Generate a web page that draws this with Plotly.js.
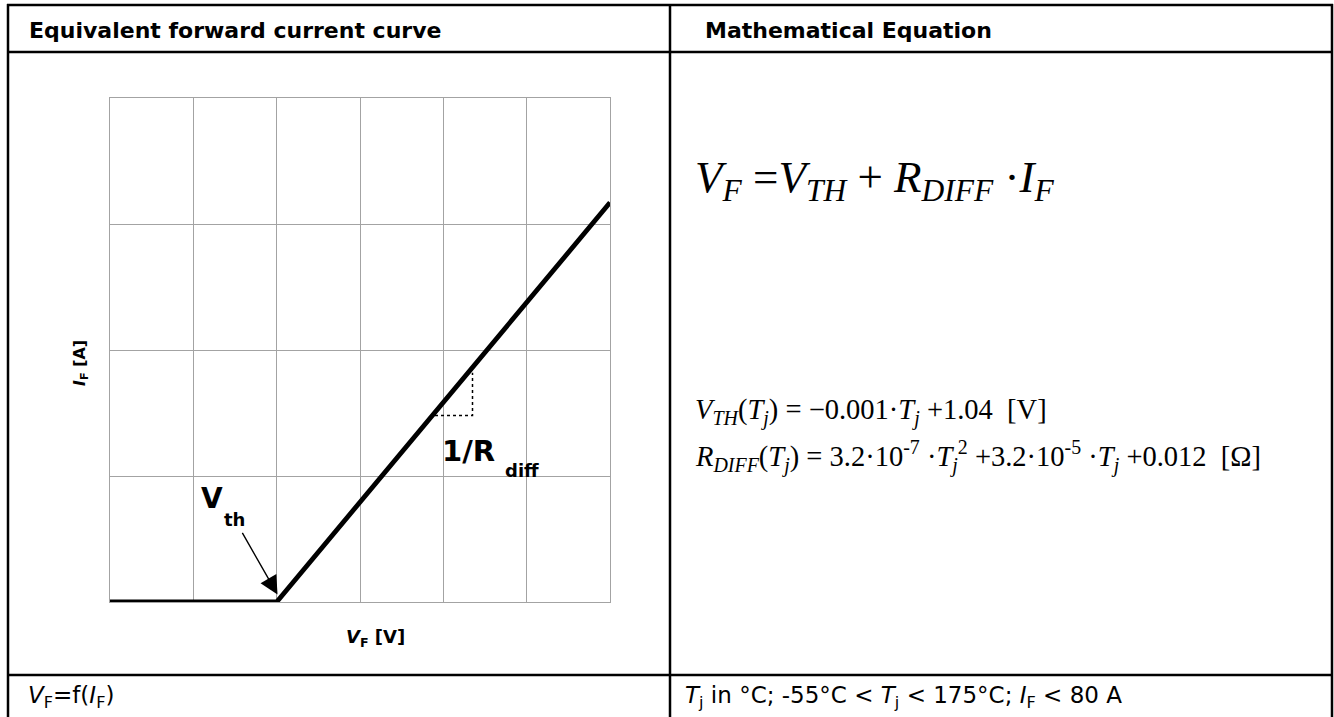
<!DOCTYPE html>
<html>
<head>
<meta charset="utf-8">
<script src="https://cdn.plot.ly/plotly-3.0.1.min.js"></script>
<style>
  html, body { margin: 0; padding: 0; background: #ffffff; }
  #chart { width: 1334px; height: 717px; }
</style>
</head>
<body>
<div id="chart"></div>
<script>
// ---- data ----
var forwardVoltage = [0, 2, 6];          // V_F, in grid units
var forwardCurrent = [0, 0, 3.17];       // I_F, in grid units
var slopeMarkX = [3.9, 4.35, 4.35];      // dotted slope triangle
var slopeMarkY = [1.48, 1.48, 1.82];
var thresholdPoint = [2.01, 0.06];       // where the V_th arrow points

var headerLeft = 'Equivalent forward current curve';
var headerRight = 'Mathematical Equation';
var footerLeft = '<i>V</i><sub>F</sub>=f(<i>I</i><sub>F</sub>)';
var footerRight = '<i>T</i><sub>j</sub> in °C; -55°C &lt; <i>T</i><sub>j</sub> &lt; 175°C; <i>I</i><sub>F</sub> &lt; 80 A';
var eqMain = '<i>V</i><sub><i>F</i></sub> =<i>V</i><sub><i>TH</i></sub> + <i>R</i><sub><i>DIFF</i></sub> ·<i>I</i><sub><i>F</i></sub>';
var eqVth = '<i>V</i><sub><i>TH</i></sub>(<i>T</i><sub><i>j</i></sub>) = −0.001·<i>T</i><sub><i>j</i></sub> +1.04  [V]';
var eqRdiff = '<i>R</i><sub><i>DIFF</i></sub>(<i>T</i><sub><i>j</i></sub>) = 3.2·10<sup>-7</sup> ·<i>T</i><sub><i>j</i></sub><sup>2</sup> +3.2·10<sup>-5</sup> ·<i>T</i><sub><i>j</i></sub> +0.012  [Ω]';
var xLabel = '<b><i>V</i><sub>F</sub> [V]</b>';
var yLabel = '<b><i>I</i><sub>F</sub> [A]</b>';

// ---- helpers: pixel -> paper (margins are 0, so paper = full canvas) ----
var W = 1334, H = 717;
function px(x) { return x / W; }
function py(y) { return 1 - y / H; }

var black = '#000000';
var grid = '#a3a3a3';

function hline(y, x0, x1, w) {
  return {type: 'line', xref: 'paper', yref: 'paper', x0: px(x0), x1: px(x1), y0: py(y), y1: py(y),
          line: {color: black, width: w}};
}
function vline(x, y0, y1, w) {
  return {type: 'line', xref: 'paper', yref: 'paper', x0: px(x), x1: px(x), y0: py(y0), y1: py(y1),
          line: {color: black, width: w}};
}

var shapes = [
  hline(5, 7, 1333, 2.5),
  hline(52, 7, 1333, 2.5),
  hline(675, 7, 1333, 2.5),
  vline(8, 4, 720, 2.5),
  vline(670, 4, 720, 2.5),
  vline(1332, 4, 720, 2.5)
];

function ann(text, x, y, opts) {
  var a = {text: text, xref: 'paper', yref: 'paper', x: px(x), y: py(y), showarrow: false,
           xanchor: 'left', yanchor: 'middle',
           font: {family: 'DejaVu Sans', size: 20, color: black}};
  for (var k in opts) { a[k] = opts[k]; }
  return a;
}

var annotations = [
  ann('<b>' + headerLeft + '</b>', 27, 30, {font: {family: 'DejaVu Sans', size: 22, color: black}}),
  ann('<b>' + headerRight + '</b>', 703, 30, {font: {family: 'DejaVu Sans', size: 22, color: black}}),
  ann(footerLeft, 26, 697, {font: {family: 'DejaVu Sans', size: 23, color: black}}),
  ann(footerRight, 683, 697, {font: {family: 'DejaVu Sans', size: 23, color: black}}),
  ann(eqMain, 693, 180, {font: {family: 'Liberation Serif', size: 45, color: black}}),
  ann(eqVth, 693, 412, {font: {family: 'Liberation Serif', size: 28.5, color: black}}),
  ann(eqRdiff, 693, 456, {font: {family: 'Liberation Serif', size: 28.5, color: black}}),
  ann(yLabel, 80, 363, {xanchor: 'center', textangle: -90, font: {family: 'DejaVu Sans', size: 16, color: black}}),
  ann(xLabel, 375, 638, {xanchor: 'center', font: {family: 'DejaVu Sans', size: 18, color: black}}),
  ann('<b>V</b>', 199, 498, {font: {family: 'DejaVu Sans', size: 28, color: black}}),
  ann('<b>th</b>', 222, 519, {font: {family: 'DejaVu Sans', size: 18, color: black}}),
  ann('<b>1/R</b>', 440, 451, {font: {family: 'DejaVu Sans', size: 29, color: black}}),
  ann('<b>diff</b>', 503, 470, {font: {family: 'DejaVu Sans', size: 18, color: black}}),
  {text: '', xref: 'x', yref: 'y', x: thresholdPoint[0], y: thresholdPoint[1],
   showarrow: true, arrowhead: 2, arrowsize: 2.6, arrowwidth: 1.4, arrowcolor: black,
   axref: 'pixel', ayref: 'pixel', ax: -36, ay: -63}
];

var traces = [
  {x: forwardVoltage, y: forwardCurrent, type: 'scatter', mode: 'lines',
   line: {color: black, width: 4.8}, cliponaxis: false, hoverinfo: 'skip', showlegend: false},
  {x: slopeMarkX, y: slopeMarkY, type: 'scatter', mode: 'lines',
   line: {color: black, width: 1.5, dash: 'dot'}, hoverinfo: 'skip', showlegend: false}
];

var axisCommon = {showgrid: true, gridcolor: grid, gridwidth: 1, zeroline: false,
                  showticklabels: false, ticks: '', showline: true, mirror: true,
                  linecolor: grid, linewidth: 1, fixedrange: true, dtick: 1};

var layout = {
  width: W, height: H,
  margin: {l: 0, r: 0, t: 0, b: 0, pad: 0},
  paper_bgcolor: '#ffffff', plot_bgcolor: '#ffffff',
  showlegend: false,
  xaxis: Object.assign({}, axisCommon, {domain: [px(110), px(610)], range: [0, 6], tick0: 0}),
  yaxis: Object.assign({}, axisCommon, {domain: [py(602), py(98)], range: [0, 4], tick0: 0}),
  shapes: shapes,
  annotations: annotations
};

Plotly.newPlot('chart', traces, layout, {displayModeBar: false, staticPlot: true});
</script>
</body>
</html>
